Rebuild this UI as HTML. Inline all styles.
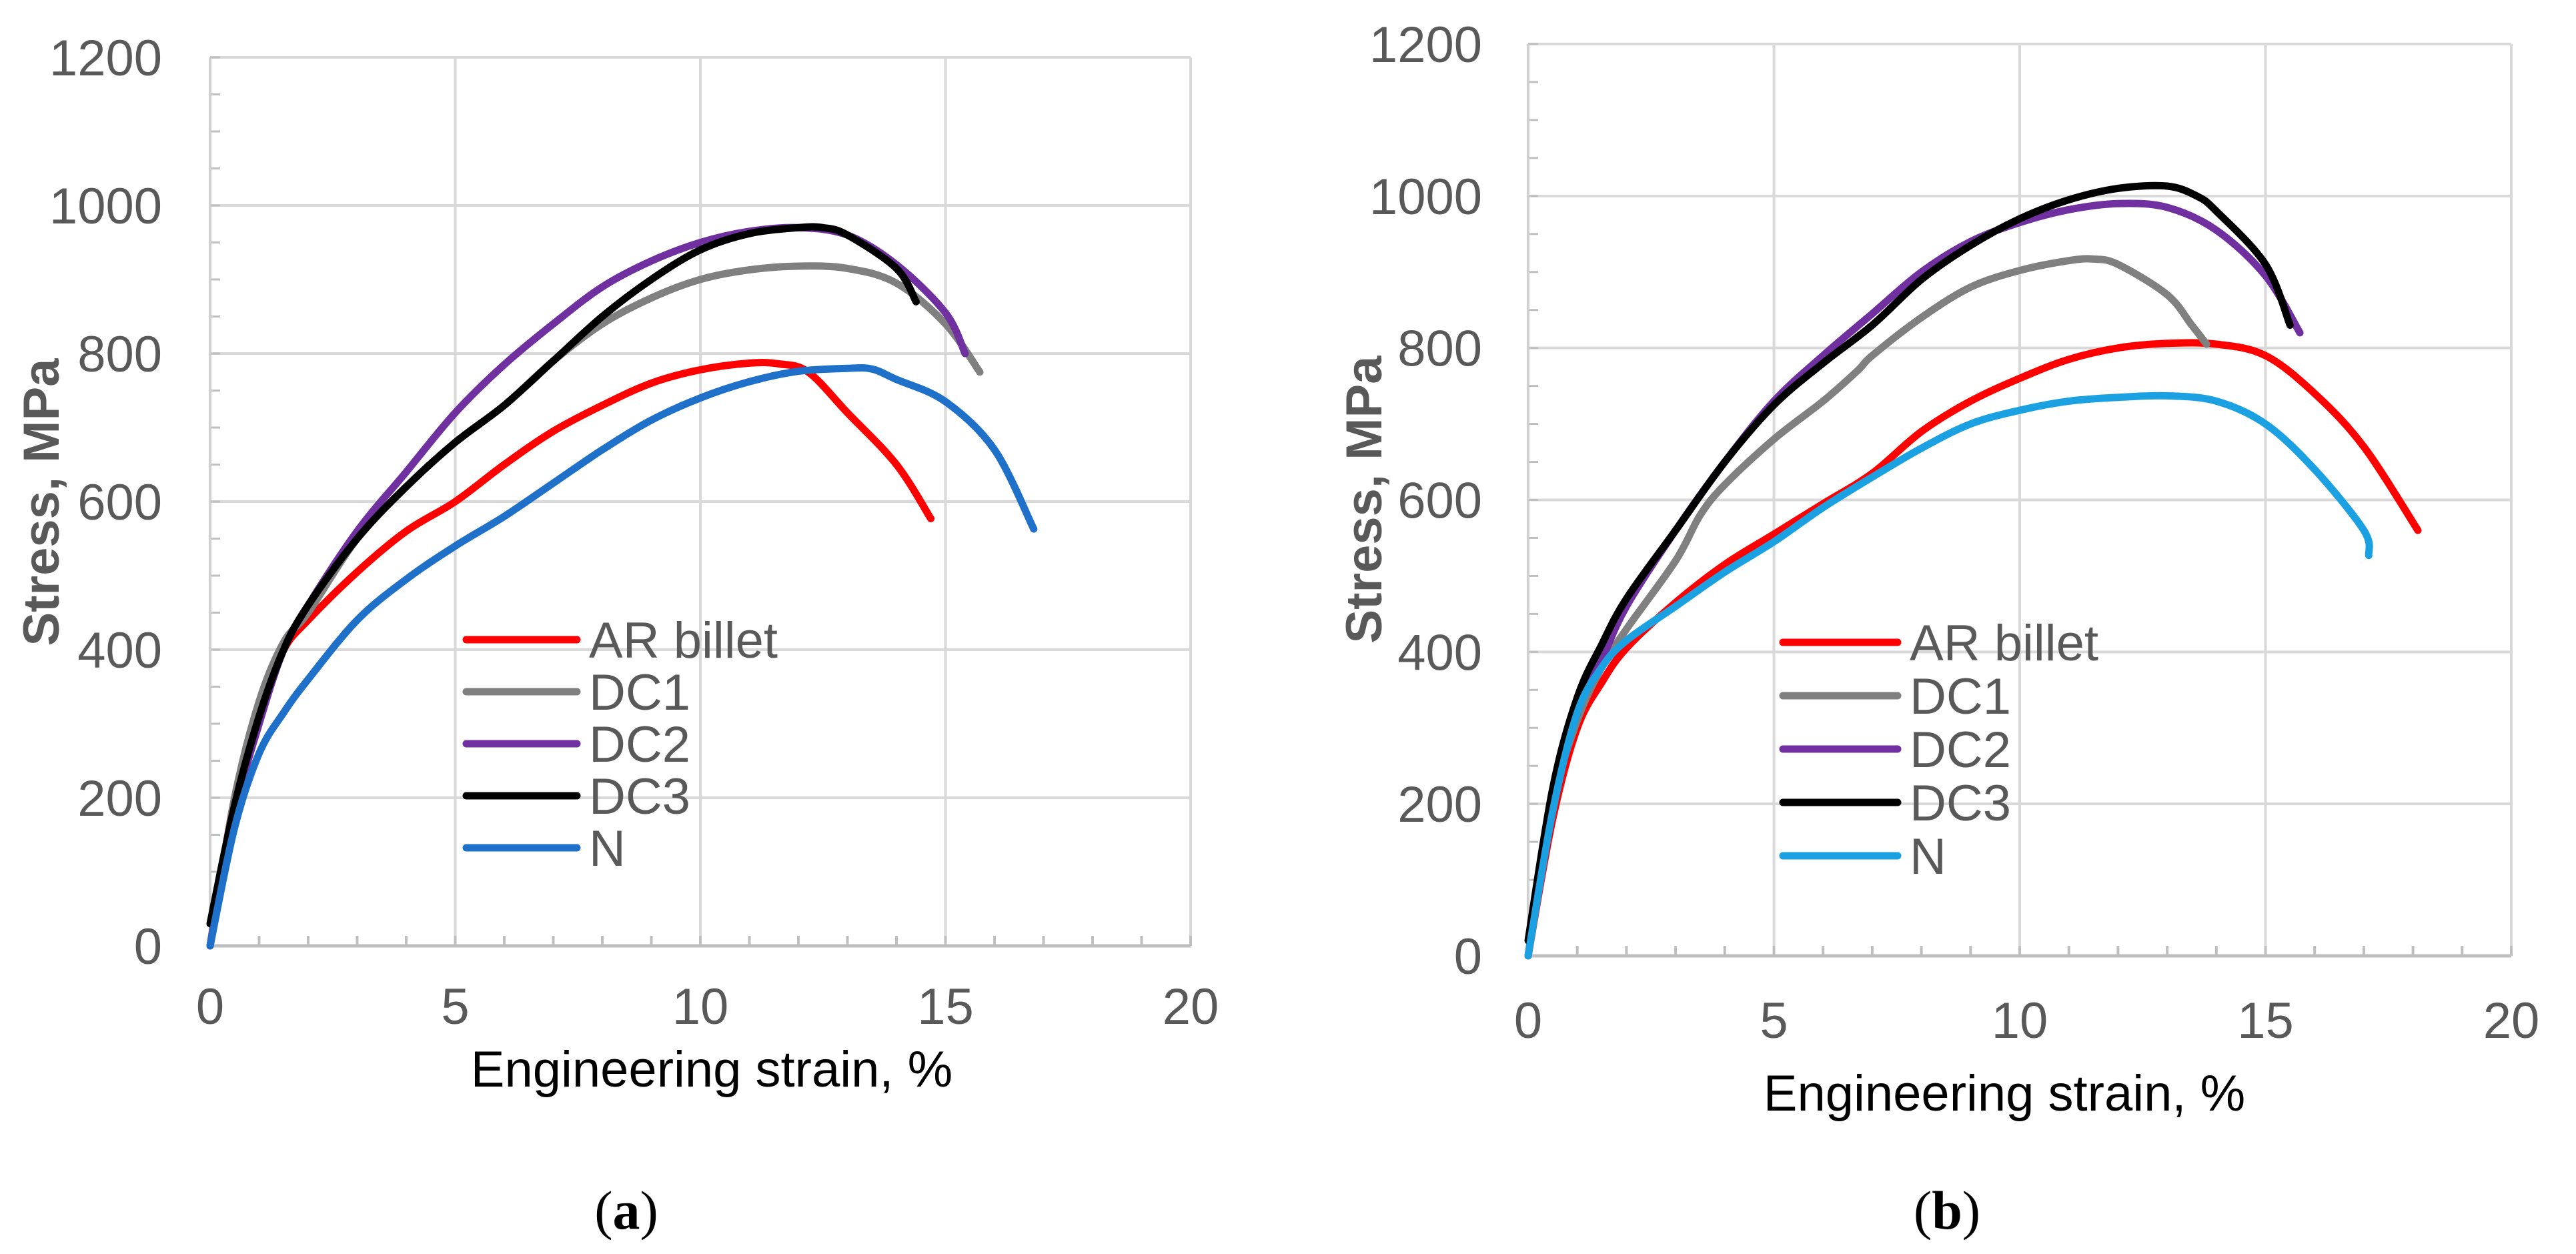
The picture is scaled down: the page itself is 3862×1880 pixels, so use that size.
<!DOCTYPE html>
<html><head><meta charset="utf-8"><style>
html,body{margin:0;padding:0;background:#fff;}
svg{display:block;}
text{font-family:"Liberation Sans",sans-serif;}
</style></head><body>
<svg id="fig" width="3862" height="1880" viewBox="0 0 3862 1880" xmlns="http://www.w3.org/2000/svg"></svg>
<script>
const xTicks=[0,5,10,15,20];
const yTicks=[0,200,400,600,800,1000,1200];
const seriesNames=["AR billet","DC1","DC2","DC3","N"];
// Panel (a) data: [strain %, stress MPa]
const aAR=[[0,0],[0.5,200],[1,320],[1.5,400],[2,440],[3,505],[4,560],[5,600],[6,650],[7,695],[8,730],[9,760],[10,778],[11,787],[11.6,786],[12.2,775],[13,720],[14,650],[14.7,577]];
const aDC1=[[0,0],[0.5,200],[1,330],[1.5,410],[2,450],[3,550],[4,620],[5,680],[6,730],[7,790],[8,840],[9,875],[10,900],[11,913],[12,918],[13,915],[14,895],[15,840],[15.7,775]];
const aDC2=[[0,0],[0.5,180],[1,300],[1.5,400],[2,460],[3,560],[4,640],[5,720],[6,785],[7,840],[8,890],[9,925],[10,950],[11,965],[12,970],[13,960],[14,920],[15,855],[15.4,800]];
const aDC3=[[0,30],[0.5,190],[1,310],[1.5,400],[2,460],[3,550],[4,620],[5,680],[6,730],[7,790],[8,850],[9,900],[10,940],[11,962],[12,970],[12.5,970],[13,960],[14,915],[14.4,870]];
const aN=[[0,0],[0.5,160],[1,260],[1.5,315],[2,360],[3,440],[4,495],[5,540],[6,580],[7,625],[8,670],[9,710],[10,740],[11,762],[12,776],[13,780],[13.5,779],[14,765],[15,735],[16,670],[16.8,563]];
// Panel (b) data
const bAR=[[0,0],[0.5,180],[1,300],[1.5,360],[2,405],[3,465],[4,515],[5,555],[6,595],[7,635],[8,690],[9,730],[10,760],[11,785],[12,800],[13,806],[14,805],[15,790],[16,740],[17,670],[18.1,560]];
const bDC1=[[0,0],[0.5,200],[1,310],[1.5,380],[2,430],[3,520],[3.5,580],[4,620],[5,680],[6,730],[6.7,770],[7,790],[8,840],[9,880],[10,902],[11,915],[11.5,917],[12,910],[13,870],[13.5,830],[13.8,805]];
const bDC2=[[0,0],[0.5,200],[1,320],[1.5,390],[2,460],[3,560],[4,650],[5,730],[6,790],[7,845],[8,900],[9,940],[10,965],[11,982],[12,990],[13,985],[14,955],[15,895],[15.7,820]];
const bDC3=[[0,20],[0.5,220],[1,340],[1.5,410],[2,470],[3,560],[4,650],[5,725],[6,780],[7,830],[8,890],[9,935],[10,970],[11,995],[12,1010],[13,1013],[13.6,1000],[14,980],[15,910],[15.5,830]];
const bN=[[0,0],[0.5,190],[1,320],[1.5,380],[2,415],[3,460],[4,505],[5,545],[6,590],[7,630],[8,668],[9,700],[10,718],[11,730],[12,735],[13,737],[14,730],[15,700],[16,640],[17,560],[17.1,527]];

const NS="http://www.w3.org/2000/svg";
const svg=document.getElementById('fig');
function mk(tag,attrs,parent){const e=document.createElementNS(NS,tag);for(const k in attrs)e.setAttribute(k,attrs[k]);(parent||svg).appendChild(e);return e;}
function smooth(pts){
  let d='M'+pts[0][0].toFixed(1)+','+pts[0][1].toFixed(1);
  for(let i=0;i<pts.length-1;i++){
    const p0=pts[Math.max(0,i-1)],p1=pts[i],p2=pts[i+1],p3=pts[Math.min(pts.length-1,i+2)];
    const c1=[p1[0]+(p2[0]-p0[0])/6,p1[1]+(p2[1]-p0[1])/6];
    const c2=[p2[0]-(p3[0]-p1[0])/6,p2[1]-(p3[1]-p1[1])/6];
    d+=' C'+c1[0].toFixed(1)+','+c1[1].toFixed(1)+' '+c2[0].toFixed(1)+','+c2[1].toFixed(1)+' '+p2[0].toFixed(1)+','+p2[1].toFixed(1);
  }
  return d;
}

function panel(cfg){
  const g=mk('g',{});
  
  
  const sx=v=>cfg.x0+(cfg.x1-cfg.x0)*v/20;
  const sy=v=>cfg.y0-(cfg.y0-cfg.y1)*v/1200;
  yTicks.forEach(t=>{if(t===0)return;const l=mk('line',{x1:cfg.x0,x2:cfg.x1,y1:sy(t),y2:sy(t),stroke:'#d9d9d9','stroke-width':4},g);
    });
  xTicks.forEach(t=>{if(t===0)return;const l=mk('line',{x1:sx(t),x2:sx(t),y1:cfg.y0,y2:cfg.y1,stroke:'#d9d9d9','stroke-width':4},g);
    });
  for(let v=0;v<=1200;v+=50){mk('line',{x1:cfg.x0,x2:cfg.x0+15,y1:sy(v),y2:sy(v),stroke:'#bfbfbf','stroke-width':3},g);}
  for(let v=0;v<=20;v+=1){mk('line',{x1:sx(v),x2:sx(v),y1:cfg.y0,y2:cfg.y0-15,stroke:'#bfbfbf','stroke-width':4},g);}
  const ax=mk('line',{x1:cfg.x0,x2:cfg.x1,y1:cfg.y0,y2:cfg.y0,stroke:'#bfbfbf','stroke-width':5},g);
  
  const ay=mk('line',{x1:cfg.x0,x2:cfg.x0,y1:cfg.y0,y2:cfg.y1,stroke:'#d0d0d0','stroke-width':4},g);
  
  yTicks.forEach(t=>{const tx=mk('text',{x:cfg.ylabX,y:sy(t)+27,'text-anchor':'end','font-size':76,fill:'#595959'},g);tx.textContent=t;
    });
  xTicks.forEach(t=>{const tx=mk('text',{x:sx(t),y:cfg.xlabY+27,'text-anchor':'middle','font-size':76,fill:'#595959'},g);tx.textContent=t;
    });
  const xt=mk('text',{x:cfg.xtX,y:cfg.xtY+28,'text-anchor':'middle','font-size':76,fill:'#000'},g);xt.textContent='Engineering strain, %';
  
  const yt=mk('text',{x:0,y:0,'text-anchor':'middle','font-size':76,'font-weight':'bold',fill:'#595959',transform:`translate(${cfg.ytX+27},${cfg.ytY}) rotate(-90)`},g);yt.textContent='Stress, MPa';
  
  const cap=mk('text',{x:cfg.capX,y:cfg.capY+26,'text-anchor':'middle','font-size':82,fill:'#000',style:'font-family:"Liberation Serif",serif'},g);
  cap.innerHTML='(<tspan font-weight="bold">'+cfg.id+'</tspan>)';
  
  cfg.data.forEach((d,i)=>{
    const pts=d.map(pt=>[sx(pt[0]),sy(pt[1])]);
    const p=mk('path',{d:smooth(pts),fill:'none',stroke:cfg.colors[i],'stroke-width':11,'stroke-linejoin':'round','stroke-linecap':'round'},g);
    
    
  });
  seriesNames.forEach((n,i)=>{
    const y=cfg.legY[i];
    const ll=mk('line',{x1:cfg.legX0,x2:cfg.legX1,y1:y,y2:y,stroke:cfg.colors[i],'stroke-width':11,'stroke-linecap':'round'},g);
    
    const lt=mk('text',{x:cfg.legX1+18,y:y+27,'font-size':76,fill:'#595959'},g);lt.textContent=n;
    
  });
}
panel({id:'a',x0:315,x1:1785,y0:1418,y1:86,ylabX:243,xlabY:1508,xtX:1067,xtY:1601,ytX:61,ytY:753,capX:939,capY:1816,
  data:[aAR,aDC1,aDC2,aDC3,aN],colors:['#ff0000','#808080','#7030a0','#000000','#1f70c8'],
  legX0:699,legX1:865,legY:[959,1037,1115,1193,1271]});
panel({id:'b',x0:2291,x1:3765,y0:1433,y1:66,ylabX:2222,xlabY:1529,xtX:3005,xtY:1637,ytX:2044,ytY:749,capX:2919,capY:1816,
  data:[bAR,bDC1,bDC2,bDC3,bN],colors:['#ff0000','#808080','#7030a0','#000000','#1ba1e2'],
  legX0:2673,legX1:2845,legY:[963,1043,1123,1203,1283]});
</script>
</body></html>
